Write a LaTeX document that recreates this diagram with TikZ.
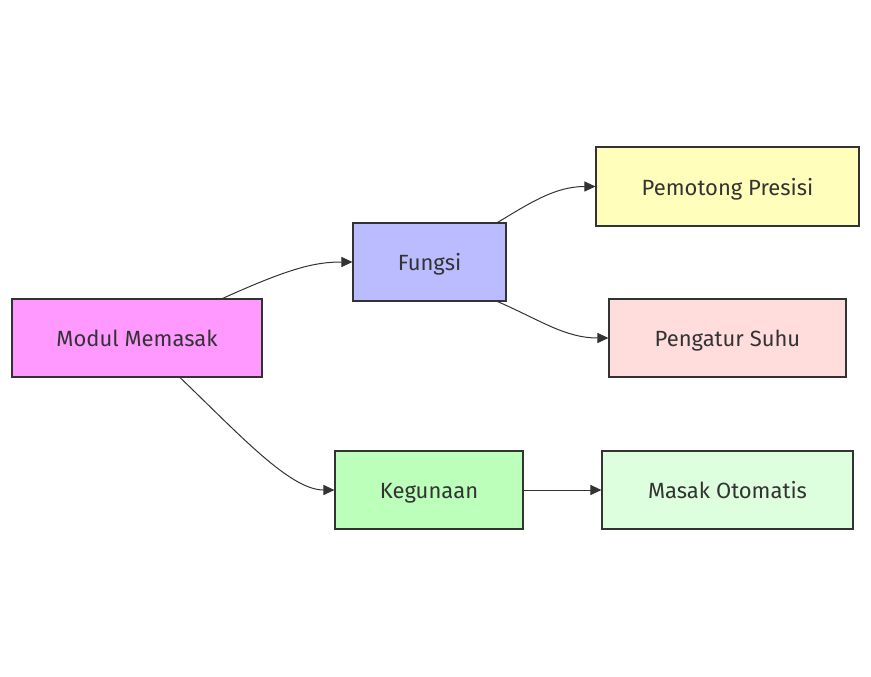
\documentclass[tikz,border=0pt]{standalone}
\usepackage{fontspec}
\setmainfont{Fira Sans}
\usetikzlibrary{arrows.meta,calc}
\definecolor{ink}{HTML}{333333}
\definecolor{cmodul}{HTML}{FF99FF}
\definecolor{cfungsi}{HTML}{BBBBFF}
\definecolor{cpotong}{HTML}{FFFFBB}
\definecolor{csuhu}{HTML}{FFDDDD}
\definecolor{cguna}{HTML}{BBFFBB}
\definecolor{cmasak}{HTML}{DDFFDD}
\tikzset{
  box/.style={draw=ink, line width=1.1pt, text=ink, minimum height=78pt, inner sep=0pt,
    text height=20pt, text depth=3pt, font=\fontsize{22pt}{26pt}\selectfont},
  link/.style={draw=ink, line width=1pt, -{Triangle[length=11pt,width=10pt]}}
}
\begin{document}
\begin{tikzpicture}[x=1pt,y=-1pt]
\useasboundingbox (0,0) rectangle (871,677);
\fill[white] (0,0) rectangle (871,677);
\node[box, fill=cmodul, minimum width=250pt] (M) at (137,338) {Modul Memasak};
\node[box, fill=cfungsi, minimum width=153pt] (F) at (429.5,262) {Fungsi};
\node[box, fill=cpotong, minimum width=263pt, minimum height=79pt] (P) at (727.5,186.5) {Pemotong Presisi};
\node[box, fill=csuhu, minimum width=237pt] (S) at (727.5,338) {Pengatur Suhu};
\node[box, fill=cguna, minimum width=188pt] (K) at (429,490) {Kegunaan};
\node[box, fill=cmasak, minimum width=251pt] (O) at (727.5,490) {Masak Otomatis};
\coordinate (m1) at ($(M.north east)+(-40,0)$);
\coordinate (m2) at ($(M.south)+(43,0)$);
\coordinate (f1) at ($(F.north east)+(-9,0)$);
\coordinate (f2) at ($(F.south east)+(-9,0)$);
\draw[link] (m1) .. controls (290,268) and (315,262) .. (F.west);
\draw[link] (m2) .. controls (240,435) and (290,490) .. (K.west);
\draw[link] (f1) .. controls (530,203) and (555,186.5) .. (P.west);
\draw[link] (f2) .. controls (540,320) and (565,338) .. (S.west);
\draw[link] (K.east) -- (O.west);
\end{tikzpicture}
\end{document}
